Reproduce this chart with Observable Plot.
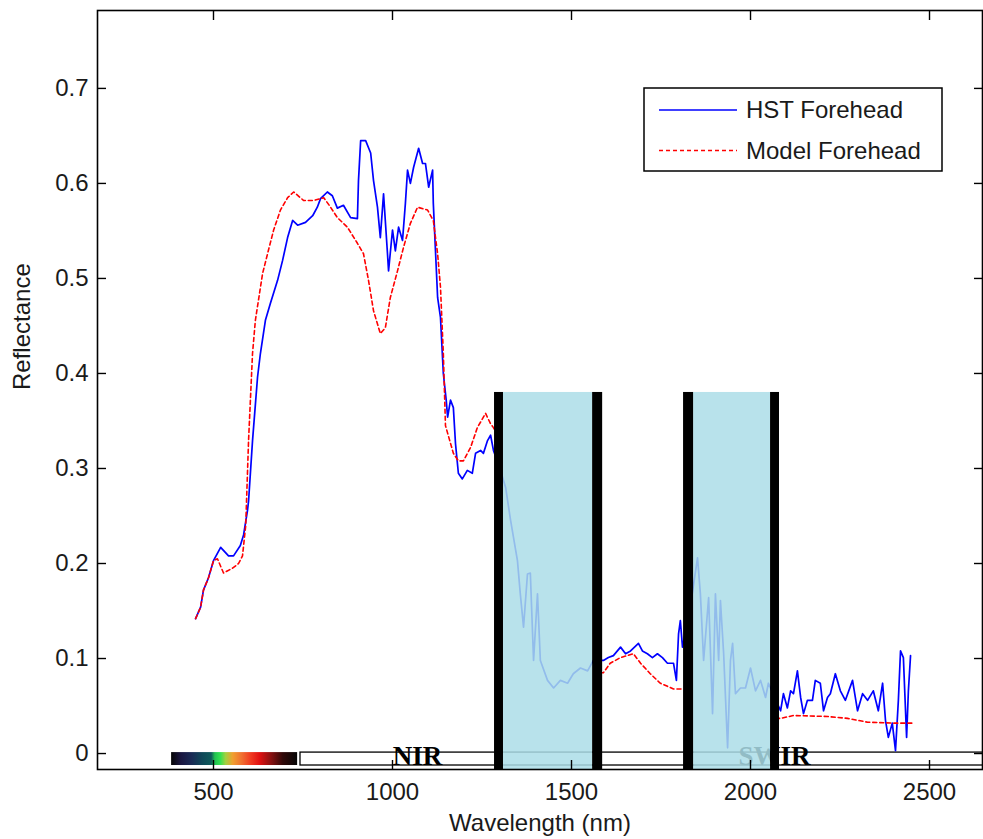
<!DOCTYPE html>
<html>
<head>
<meta charset="utf-8">
<script src="https://cdn.jsdelivr.net/npm/d3@7"></script>
<script src="https://cdn.jsdelivr.net/npm/@observablehq/plot@0.6"></script>
<style>
  body { margin: 0; background: #fff; }
  #chart { width: 983px; height: 839px; }
</style>
</head>
<body>
<div id="chart"></div>
<script>
// ---- Data ----
const seriesNames = ["HST Forehead", "Model Forehead"];
const seriesColors = ["#0000ff", "#ff0000"];

const hstWavelength = [450,464,472,486,500,520,542,556,575,584,595,598,609,623,631,645,659,679,693,707,721,735,757,777,790,799,818,832,846,863,883,902,905,911,925,939,947,958,966,975,986,989,1000,1008,1017,1028,1036,1042,1050,1059,1073,1084,1092,1101,1112,1114,1126,1134,1142,1150,1154,1162,1170,1176,1184,1195,1209,1223,1232,1246,1254,1265,1274,1282,1300,1316,1330,1349,1357,1366,1377,1385,1394,1405,1413,1433,1450,1469,1489,1505,1525,1545,1561,1589,1603,1617,1637,1651,1665,1687,1698,1712,1726,1740,1754,1768,1785,1793,1799,1804,1810,1830,1852,1860,1869,1883,1894,1902,1911,1916,1925,1936,1944,1950,1958,1972,1986,2000,2014,2028,2042,2050,2084,2092,2103,2112,2120,2131,2140,2148,2159,2173,2181,2195,2204,2215,2223,2237,2251,2265,2285,2299,2313,2327,2343,2357,2369,2377,2385,2396,2405,2413,2419,2427,2436,2441,2447];
const hstReflectance = [0.142,0.154,0.172,0.185,0.203,0.217,0.208,0.208,0.219,0.230,0.256,0.266,0.329,0.396,0.421,0.456,0.474,0.498,0.519,0.543,0.561,0.556,0.559,0.566,0.575,0.584,0.591,0.587,0.574,0.577,0.564,0.563,0.603,0.645,0.645,0.632,0.603,0.575,0.543,0.589,0.526,0.508,0.551,0.529,0.554,0.540,0.579,0.614,0.600,0.617,0.637,0.621,0.621,0.596,0.614,0.579,0.480,0.459,0.400,0.372,0.354,0.372,0.364,0.326,0.295,0.289,0.298,0.295,0.316,0.319,0.316,0.329,0.335,0.319,0.300,0.280,0.245,0.203,0.168,0.133,0.189,0.190,0.098,0.168,0.098,0.077,0.069,0.077,0.074,0.084,0.090,0.087,0.098,0.098,0.101,0.103,0.112,0.105,0.108,0.116,0.108,0.105,0.101,0.105,0.101,0.095,0.095,0.077,0.126,0.140,0.112,0.150,0.206,0.168,0.098,0.164,0.042,0.168,0.098,0.161,0.105,0.006,0.098,0.116,0.063,0.069,0.069,0.090,0.066,0.077,0.059,0.074,0.045,0.063,0.048,0.066,0.063,0.087,0.059,0.042,0.056,0.056,0.077,0.074,0.045,0.059,0.063,0.084,0.066,0.056,0.077,0.045,0.063,0.056,0.066,0.045,0.074,0.035,0.017,0.032,0.003,0.056,0.108,0.101,0.017,0.066,0.103];

// Model: no values inside the two water-absorption bands (NaN = gap)
const modelWavelength = [450,464,472,486,500,511,528,553,570,581,590,598,609,617,637,651,668,687,707,724,752,780,808,827,846,874,902,919,933,947,966,980,994,1014,1031,1050,1070,1098,1114,1126,1134,1142,1148,1170,1184,1198,1218,1237,1260,1274,1282,1300,1400,1580,1589,1608,1637,1673,1693,1720,1748,1785,1810,1900,2070,2084,2120,2215,2271,2327,2399,2455];
const modelReflectance = [0.142,0.154,0.172,0.185,0.203,0.205,0.190,0.195,0.200,0.208,0.240,0.330,0.421,0.456,0.505,0.526,0.551,0.572,0.585,0.591,0.582,0.582,0.585,0.575,0.564,0.554,0.537,0.526,0.498,0.466,0.442,0.448,0.480,0.508,0.533,0.558,0.575,0.572,0.561,0.526,0.491,0.421,0.345,0.316,0.308,0.308,0.322,0.343,0.358,0.347,0.343,0.330,NaN,0.085,0.085,0.095,0.101,0.105,0.095,0.084,0.074,0.068,0.068,NaN,0.037,0.037,0.040,0.039,0.037,0.033,0.032,0.032];

// Axis ticks
const xTicks = [500, 1000, 1500, 2000, 2500];
const yTicks = [0, 0.1, 0.2, 0.3, 0.4, 0.5, 0.6, 0.7];
const xDomain = [176, 2648];
const yDomain = [-0.0168, 0.782];
const xLabel = "Wavelength (nm)";
const yLabel = "Reflectance";

// Water absorption bands (shaded) and their black edge bars
const bandStart = [1310, 1841];
const bandEnd = [1559, 2056];
const bandTop = 0.38;
const barStart = [1285, 1559, 1813, 2056];
const barEnd = [1310, 1587, 1841, 2081];

// Spectral region strip along the bottom
const stripTop = 0.001;
const stripBottom = -0.0126;
const visStart = 383, visEnd = 735;
const visStopWavelength = [383, 410, 440, 470, 495, 505, 520, 535, 555, 580, 605, 630, 665, 695, 735];
const visStopColor = ["#050505","#1a1640","#1a2a55","#0f4858","#0e5a5a","#20c050","#30e050","#a0d040","#f0a030","#f07030","#f03a20","#e01010","#801010","#300808","#050505"];
const regionNames = ["NIR", "SWIR"];
const regionStart = [743, 1297];
const regionEnd = [1297, 2700];
const regionLabelAt = [1070, 2067];

// ---- Build tables ----
const hst = hstWavelength.map((w, i) => ({w, r: hstReflectance[i]}));
const model = modelWavelength.map((w, i) => ({w, r: modelReflectance[i]}));
const bands = bandStart.map((s, i) => ({s, e: bandEnd[i]}));
const bars = barStart.map((s, i) => ({s, e: barEnd[i]}));
const regions = regionNames.map((n, i) => ({n, s: regionStart[i], e: regionEnd[i], c: regionLabelAt[i]}));

const font = "'Liberation Sans', Arial, Helvetica, sans-serif";
const ink = "#1a1a1a";

const chart = Plot.plot({
  width: 983,
  height: 839,
  marginLeft: 97,
  marginRight: 1,
  marginTop: 10,
  marginBottom: 70,
  style: {fontFamily: font, fontSize: "24px", color: ink, background: "#fff"},
  x: {domain: xDomain, axis: null},
  y: {domain: yDomain, axis: null},
  marks: [
    // visible spectrum colour bar
    Plot.rect([{s: visStart, e: visEnd}], {x1: "s", x2: "e", y1: stripBottom, y2: stripTop, fill: "url(#visgrad)"}),
    // NIR / SWIR boxes
    Plot.rect(regions, {x1: "s", x2: "e", y1: stripBottom, y2: stripTop, fill: "white", stroke: "black", strokeWidth: 1.3, clip: true}),
    Plot.text(regions, {x: "c", y: (stripTop + stripBottom) / 2 + 0.003, text: "n", fontFamily: "'Liberation Serif', 'Times New Roman', serif", fontWeight: "bold", fontSize: 27, fill: "black", lineAnchor: "middle"}),
    // spectra
    Plot.line(hst, {x: "w", y: "r", stroke: seriesColors[0], strokeWidth: 1.7}),
    Plot.line(model, {x: "w", y: "r", stroke: seriesColors[1], strokeWidth: 1.6, strokeDasharray: "4,3"}),
    // water bands
    Plot.rect(bands, {x1: "s", x2: "e", y1: yDomain[0], y2: bandTop, fill: "#acdde7", fillOpacity: 0.85}),
    Plot.rect(bars, {x1: "s", x2: "e", y1: yDomain[0], y2: bandTop, fill: "black"}),
    // axes
    Plot.axisX(xTicks, {anchor: "bottom", tickSize: 0, tickPadding: 13, tickFormat: d3.format("d"), label: null, fontSize: 24}),
    Plot.axisX(xTicks, {anchor: "bottom", tickSize: -9, tickFormat: () => "", label: null, strokeWidth: 1.4, stroke: "black"}),
    Plot.axisX(xTicks, {anchor: "top", tickSize: -9, tickFormat: () => "", label: null, strokeWidth: 1.4, stroke: "black"}),
    Plot.axisY(yTicks, {anchor: "left", tickSize: 0, tickPadding: 9, tickFormat: d3.format("~g"), label: null, fontSize: 24}),
    Plot.axisY(yTicks, {anchor: "left", tickSize: -9, tickFormat: () => "", label: null, strokeWidth: 1.4, stroke: "black"}),
    Plot.axisY(yTicks, {anchor: "right", tickSize: -9, tickFormat: () => "", label: null, strokeWidth: 1.4, stroke: "black"}),
    Plot.frame({stroke: "black", strokeWidth: 1.6}),
    // axis titles
    Plot.text([xLabel], {frameAnchor: "bottom", dy: 54, text: d => d, fontSize: 24, lineAnchor: "middle", fill: ink}),
    Plot.text([yLabel], {frameAnchor: "left", dx: -75, rotate: -90, text: d => d, fontSize: 24, lineAnchor: "middle", fill: ink})
  ]
});

// gradient for the visible spectrum
const svg = d3.select(chart);
const defs = svg.insert("defs", ":first-child");
const grad = defs.append("linearGradient").attr("id", "visgrad").attr("x1", "0").attr("x2", "1").attr("y1", "0").attr("y2", "0");
visStopWavelength.forEach((w, i) => {
  grad.append("stop").attr("offset", (w - visStart) / (visEnd - visStart)).attr("stop-color", visStopColor[i]);
});

// legend
const lg = svg.append("g").attr("font-family", font).attr("font-size", 24).attr("text-anchor", "start");
lg.append("rect").attr("x", 644).attr("y", 88).attr("width", 298).attr("height", 83)
  .attr("fill", "white").attr("stroke", "black").attr("stroke-width", 1.5);
seriesNames.forEach((name, i) => {
  const y = 110 + i * 40.5;
  lg.append("line").attr("x1", 659).attr("x2", 737).attr("y1", y).attr("y2", y)
    .attr("stroke", seriesColors[i]).attr("stroke-width", 1.6)
    .attr("stroke-dasharray", i === 1 ? "4,3" : null);
  lg.append("text").attr("x", 746).attr("y", y).attr("dy", "0.35em").attr("fill", ink).attr("text-anchor", "start").text(name);
});

document.getElementById("chart").appendChild(chart);
</script>
</body>
</html>
